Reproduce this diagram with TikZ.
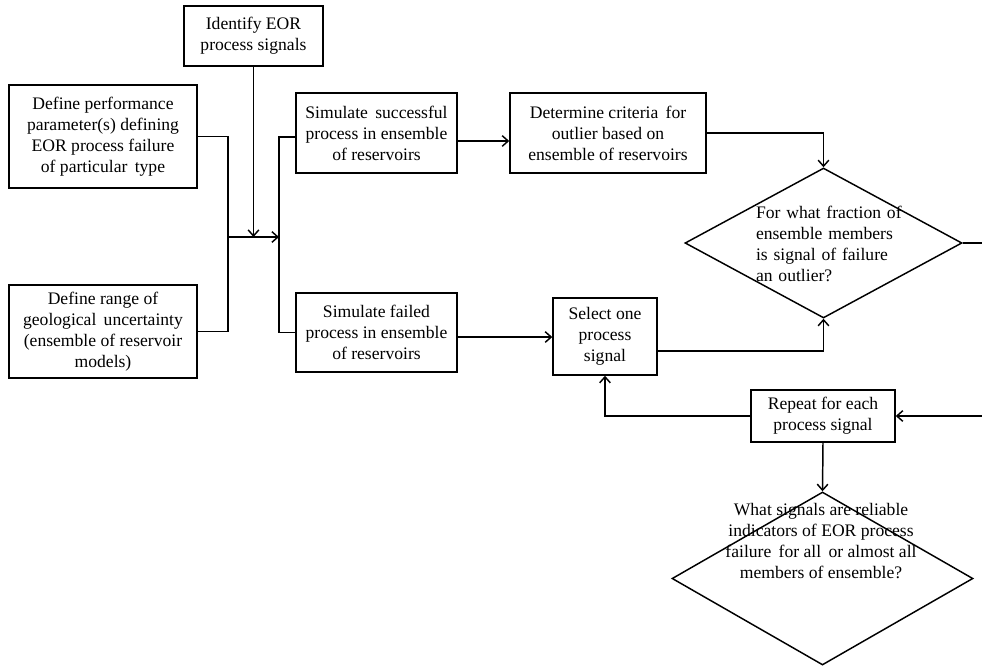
\documentclass[tikz,border=0pt]{standalone}
\usepackage{fontspec}
\setmainfont{Liberation Serif}
\usetikzlibrary{arrows.meta,shapes.geometric}
\newcommand\jline[1]{\makebox[\linewidth][s]{#1}}
\begin{document}
\begin{tikzpicture}[x=0.75pt,y=-0.75pt,
  txt/.style={font=\fontsize{13.2}{15.75}\selectfont},
  box/.style={txt,draw,line width=1.1pt,inner sep=0pt,align=center},
  dia/.style={draw,line width=1.1pt,shape=diamond,inner sep=0pt},
  ln/.style={line width=1.1pt},
  arr/.style={line width=1.1pt,-{Straight Barb[length=4.5pt,width=8pt]}}]
\useasboundingbox[fill=white] (0,0) rectangle (982,668);

\node[box,minimum width=104.25pt,minimum height=45pt] (id) at (253.5,36) {Identify EOR\\process signals};
\node[box,minimum width=141pt,minimum height=77.25pt] (dp) at (103,136.5) {Define performance\\parameter(s) defining\\EOR process failure\\of particular\, type};
\node[box,minimum width=141pt,minimum height=69.75pt] (dr) at (103,331.5) {Define range of\\geological\, uncertainty\\(ensemble of reservoir\\models)};
\node[box,minimum width=120.75pt,minimum height=60pt] (ss) at (376.5,133) {Simulate\, successful\\process in ensemble\\of reservoirs};
\node[box,minimum width=120.75pt,minimum height=59.25pt] (sf) at (376.5,332.5) {Simulate failed\\process in ensemble\\of reservoirs};
\node[box,minimum width=147pt,minimum height=60pt] (dc) at (608,133) {Determine criteria\, for\\outlier based on\\ensemble of reservoirs};
\node[box,minimum width=78pt,minimum height=57.75pt] (so) at (605,336.5) {Select one\\process\\signal};
\node[box,minimum width=108pt,minimum height=39pt] (rp) at (823,416) {Repeat for each\\process signal};

\node[dia,minimum width=207.75pt,minimum height=112.5pt] (d1) at (823.5,243) {};
\node[txt,inner sep=0pt,text width=105.75pt,align=left] (d1t) at (826.5,243.5)
  {\jline{For what fraction of}\\\jline{ensemble members}\\\jline{is signal of failure}\\an outlier?};
\node[dia,minimum width=225.75pt,minimum height=129.75pt] (d2) at (822.5,578.5) {};
\node[txt,inner sep=0pt,align=center] (d2t) at (821,541)
  {What signals are reliable\\indicators of EOR process\\failure\, for all\, or almost all\\members of ensemble?};

\coordinate (jl) at (228,237);
\coordinate (jr) at (279,237);

\draw[ln] (dp.east) -| (jl) |- (dr.east);
\draw[arr] (jl) -- (jr);
\draw[arr] (id.south) -- (id.south |- jl);
\draw[ln] ([yshift=-3pt]ss.west) -| (jr) |- (sf.west);
\draw[arr] ([yshift=-6pt]ss.east) -- ([yshift=-6pt]ss.east -| dc.west);
\draw[arr] (dc.east) -| (d1.north);
\draw[arr] ([yshift=-3.4pt]sf.east) -- ([yshift=-3.4pt]sf.east -| so.west);
\draw[arr] ([yshift=-10.9pt]so.east) -| (d1.south);
\draw[arr] (d1.east) -- ++(30,0) |- (rp.east);
\draw[arr] (rp.west) -| (so.south);
\draw[arr] (rp.south) -- (d2.north);
\end{tikzpicture}
\end{document}
